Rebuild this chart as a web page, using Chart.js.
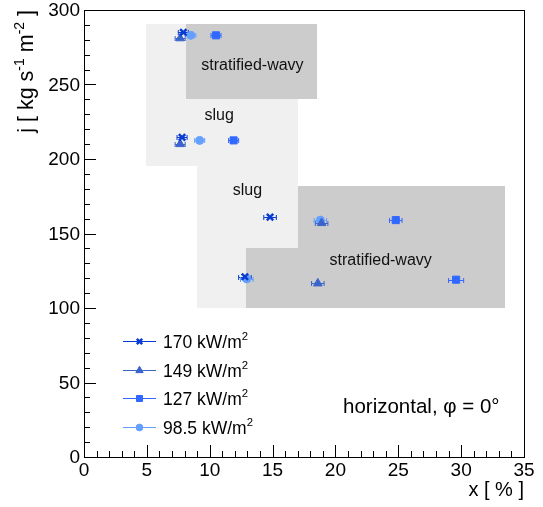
<!DOCTYPE html>
<html>
<head>
<meta charset="utf-8">
<script src="https://cdn.jsdelivr.net/npm/chart.js@4"></script>
<style>
  body { margin: 0; background: #fff; }
  canvas { display: block; }
</style>
</head>
<body>
<canvas id="flowMap" width="543" height="507"></canvas>
<script>
// ---- data ----
const seriesNames = ['170', '149', '127', '98.5'];

const x170 = [7.9, 7.8, 14.8, 12.8];
const j170 = [285, 214.5, 161, 121];
const ex170 = [0.4, 0.4, 0.5, 0.5];

const x149 = [7.65, 7.65, 18.9, 18.6];
const j149 = [281, 210, 157, 116.5];
const ex149 = [0.4, 0.4, 0.5, 0.5];

const x127 = [10.5, 11.9, 24.8, 29.6];
const j127 = [283, 212.5, 159, 119];
const ex127 = [0.4, 0.4, 0.5, 0.6];

const x985 = [8.5, 9.2, 18.8, 12.95];
const j985 = [283, 212.5, 159, 119.5];
const ex985 = [0.4, 0.4, 0.5, 0.5];

// flow pattern regions: [xFrom, xTo, jFrom, jTo]
const slugRegions = [[4.95, 17, 195, 290.5], [9, 17, 100, 195]];
const wavyRegions = [[8.1, 18.5, 240, 290.5], [17, 33.5, 140, 182], [12.9, 33.5, 100, 140]];
// region labels: [x, j, text]
const regionLabels = [
  [13.4, 263, 'stratified-wavy'],
  [10.75, 229, 'slug'],
  [13.0, 179, 'slug'],
  [23.6, 132, 'stratified-wavy']
];

const xTicks = [0, 5, 10, 15, 20, 25, 30, 35];
const yTicks = [0, 50, 100, 150, 200, 250, 300];

const FONT = '"Liberation Sans", Arial, sans-serif';
const colors = ['#0a3cd2', '#3a64cc', '#3168ff', '#66a0ff'];
const styles = ['crossRot', 'triangle', 'rect', 'circle'];
const radii = [4.5, 5, 5, 4];
const widths = [2.5, 1, 1, 1];

function pts(xs, ys, es) {
  return xs.map((x, i) => ({ x: x, y: ys[i], ex: es[i] }));
}
const seriesData = [
  pts(x170, j170, ex170),
  pts(x149, j149, ex149),
  pts(x127, j127, ex127),
  pts(x985, j985, ex985)
];

// text with superscripts: parts = [[text, isSup], ...]
function richWidth(ctx, parts, size) {
  let w = 0;
  parts.forEach(p => {
    ctx.font = (p[1] ? size * 0.65 : size) + 'px ' + FONT;
    w += ctx.measureText(p[0]).width;
  });
  return w;
}
function drawRich(ctx, parts, x, y, size) {
  let cx = x;
  parts.forEach(p => {
    ctx.font = (p[1] ? size * 0.65 : size) + 'px ' + FONT;
    ctx.fillText(p[0], cx, p[1] ? y - size * 0.42 : y);
    cx += ctx.measureText(p[0]).width;
  });
}

const regionsPlugin = {
  id: 'regions',
  beforeDatasetsDraw(chart) {
    const { ctx, scales: { x, y } } = chart;
    ctx.save();
    const box = (r, c) => {
      ctx.fillStyle = c;
      const x0 = Math.round(x.getPixelForValue(r[0])), x1 = Math.round(x.getPixelForValue(r[1]));
      const y0 = Math.round(y.getPixelForValue(r[3])), y1 = Math.round(y.getPixelForValue(r[2]));
      ctx.fillRect(x0, y0, x1 - x0, y1 - y0);
    };
    slugRegions.forEach(r => box(r, '#f0f0f0'));
    wavyRegions.forEach(r => box(r, '#cccccc'));
    ctx.fillStyle = '#111';
    ctx.font = '16px ' + FONT;
    ctx.textAlign = 'center';
    ctx.textBaseline = 'middle';
    regionLabels.forEach(l => ctx.fillText(l[2], x.getPixelForValue(l[0]), y.getPixelForValue(l[1])));

    // horizontal error bars
    seriesData.forEach((s, k) => {
      ctx.strokeStyle = colors[k];
      ctx.lineWidth = 1;
      s.forEach(p => {
        const xa = x.getPixelForValue(p.x - p.ex), xb = x.getPixelForValue(p.x + p.ex);
        const yp = Math.round(y.getPixelForValue(p.y)) + 0.5;
        ctx.beginPath();
        ctx.moveTo(xa, yp); ctx.lineTo(xb, yp);
        ctx.moveTo(xa, yp - 2.5); ctx.lineTo(xa, yp + 2.5);
        ctx.moveTo(xb, yp - 2.5); ctx.lineTo(xb, yp + 2.5);
        ctx.stroke();
      });
    });
    ctx.restore();
  }
};

const framePlugin = {
  id: 'frame',
  afterDraw(chart) {
    const { ctx, chartArea: a, scales: { x, y } } = chart;
    ctx.save();
    ctx.strokeStyle = '#000';
    ctx.lineWidth = 1;
    ctx.strokeRect(a.left + 0.5, a.top + 0.5, a.right - a.left, a.bottom - a.top);

    // ticks, pointing inward
    ctx.beginPath();
    for (let v = 0; v <= 35; v++) {
      const px = Math.round(x.getPixelForValue(v)) + 0.5;
      const len = v % 5 === 0 ? 12 : 6;
      ctx.moveTo(px, a.bottom); ctx.lineTo(px, a.bottom - len);
    }
    for (let v = 0; v <= 300; v += 10) {
      const py = Math.round(y.getPixelForValue(v)) + 0.5;
      const len = v % 50 === 0 ? 12 : 6;
      ctx.moveTo(a.left, py); ctx.lineTo(a.left + len, py);
    }
    ctx.stroke();

    // tick labels
    ctx.fillStyle = '#000';
    ctx.font = '19px ' + FONT;
    ctx.textAlign = 'center';
    ctx.textBaseline = 'top';
    xTicks.forEach(v => ctx.fillText(String(v), x.getPixelForValue(v), a.bottom + 4));
    ctx.textAlign = 'right';
    ctx.textBaseline = 'middle';
    yTicks.forEach(v => ctx.fillText(String(v), a.left - 4, y.getPixelForValue(v) + 1));

    // axis titles
    ctx.textAlign = 'left';
    ctx.textBaseline = 'alphabetic';
    const xt = [['x [ % ]', 0]];
    drawRich(ctx, xt, a.right - richWidth(ctx, xt, 20), 496, 20);

    const yt = [['j [ kg s', 0], ['-1', 1], [' m', 0], ['-2', 1], [' ]', 0]];
    ctx.translate(33, a.top);
    ctx.rotate(-Math.PI / 2);
    drawRich(ctx, yt, -richWidth(ctx, yt, 21.5), 0, 21.5);
    ctx.setTransform(1, 0, 0, 1, 0, 0);

    // legend
    const rows = [341, 370, 398, 427];
    seriesNames.forEach((n, k) => {
      const ry = rows[k];
      ctx.strokeStyle = colors[k];
      ctx.lineWidth = 1;
      ctx.beginPath();
      ctx.moveTo(123, ry + 0.5); ctx.lineTo(156, ry + 0.5);
      ctx.stroke();
      ctx.fillStyle = colors[k];
      ctx.lineWidth = widths[k];
      Chart.helpers.drawPoint(ctx, { pointStyle: styles[k], radius: radii[k] * 0.85, borderWidth: widths[k] }, 139.5, ry + 0.5);
      ctx.fillStyle = '#000';
      drawRich(ctx, [[n + ' kW/m', 0], ['2', 1]], 163, ry + 6.5, 17.5);
    });

    ctx.fillStyle = '#000';
    ctx.font = '20.5px ' + FONT;
    ctx.fillText('horizontal, \u03C6 = 0\u00B0', 343, 413);
    ctx.restore();
  }
};

new Chart(document.getElementById('flowMap'), {
  type: 'scatter',
  data: {
    datasets: seriesData.map((d, k) => ({
      label: seriesNames[k] + ' kW/m2',
      data: d,
      pointStyle: styles[k],
      pointRadius: radii[k],
      pointBorderWidth: widths[k],
      backgroundColor: colors[k],
      borderColor: colors[k]
    }))
  },
  options: {
    responsive: false,
    animation: false,
    layout: { padding: { left: 84, top: 10, right: 19, bottom: 50 } },
    scales: {
      x: { type: 'linear', min: 0, max: 35, display: false },
      y: { type: 'linear', min: 0, max: 300, display: false }
    },
    plugins: {
      legend: { display: false },
      tooltip: { enabled: false }
    }
  },
  plugins: [regionsPlugin, framePlugin]
});
</script>
</body>
</html>
